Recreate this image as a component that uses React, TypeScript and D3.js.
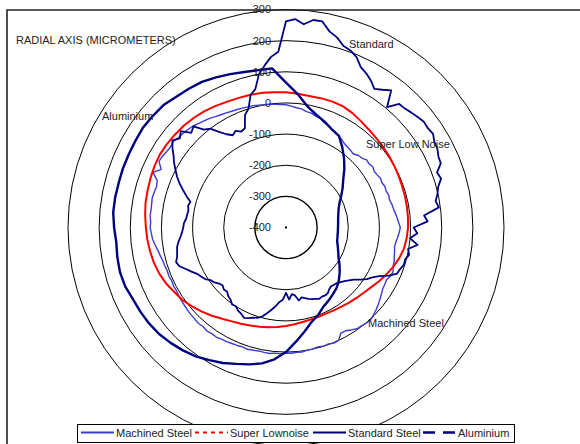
import React, { useEffect, useRef } from "react";
import * as d3 from "d3";

// Radial values in micrometers, clockwise from 12 o'clock.
// Machined Steel and Standard Steel: one value every 2.5 degrees.
const machinedSteel = [
  -6, -10, -14, -16, -22, -24, -30, -33, -42, -45, -52, -55,
  -62, -66, -72, -75, -77, -80, -72, -70, -62, -64, -60, -64,
  -62, -58, -60, -56, -58, -54, -56, -52, -50, -46, -42, -38,
  -33, -36, -40, -44, -46, -43, -40, -36, -34, -28, -30, -36,
  -34, -32, -26, -20, -14, -8, -3, 2, 1, -2, -3, -10,
  -17, -18, 0, 2, -2, 0, -3, -1, 0, 3, 2, 4,
  3, 6, 5, 8, 7, 6, 8, 10, 8, 10, 11, 13,
  14, 17, 16, 18, 15, 17, 15, 14, 13, 11, 10, 8,
  6, 7, 5, 7, 6, 8, 10, 14, 18, 24, 30, 33,
  36, 35, 38, 37, 38, 40, 38, 36, 40, 62, 42, 60,
  58, 54, 52, 55, 50, 48, 45, 42, 36, 32, 28, 22,
  18, 15, 12, 10, 8, 6, 5, 2, 0, -1, -3, -5,
];

const standardSteel = [
  262, 270, 255, 272, 272, 245, 232, 212, 205, 192, 168, 158,
  145, 128, 140, 155, 105, 138, 140, 146, 152, 158, 156, 160,
  150, 148, 140, 138, 116, 122, 106, 98, 88, 95, 45, 55,
  10, 22, 0, 26, -2, 5, -4, -3, -10, -14, -35, -62,
  -80, -92, -108, -125, -136, -145, -152, -158, -160, -162, -158, -150,
  -148, -150, -147, -152, -155, -160, -165, -170, -162, -180, -185, -168,
  -190, -168, -160, -145, -132, -118, -104, -96, -92, -85, -80, -88,
  -92, -100, -98, -108, -112, -120, -118, -124, -120, -110, -105, -92,
  -85, -78, -65, -52, -36, -30, -38, -42, -45, -52, -60, -66,
  -70, -72, -78, -80, -82, -78, -82, -65, -48, -30, -14, 0,
  15, 28, 45, 60, 45, 58, 30, 40, 10, 0, -25, -45,
  -58, -50, -60, -55, -15, 0, 40, 55, 100, 125, 150, 165,
];

// Super Lownoise and Aluminium: one value every 5 degrees.
const superLownoise = [
  34, 31, 29, 30, 31, 30, 25, 18, 12, 8, 5, 3,
  0, -2, -4, -5, -6, -7, -8, -11, -15, -23, -33, -44,
  -55, -66, -74, -80, -85, -90, -93, -95, -95, -94, -92, -88,
  -84, -79, -75, -70, -65, -59, -52, -42, -30, -18, -6, 6,
  14, 25, 33, 39, 43, 47, 50, 54, 58, 60, 63, 66,
  68, 67, 65, 63, 60, 56, 51, 46, 43, 41, 39, 36,
];

const aluminium = [
  65, 30, -5, -25, -38, -52, -60, -85, -110, -135, -160, -178,
  -195, -210, -220, -226, -230, -232, -233, -233, -232, -230, -223, -215,
  -205, -190, -175, -160, -147, -138, -128, -118, -100, -85, -60, -32,
  0, 25, 43, 55, 66, 80, 92, 105, 115, 124, 132, 137,
  140, 143, 150, 152, 150, 147, 152, 157, 157, 156, 157, 157,
  158, 160, 158, 156, 148, 144, 140, 132, 124, 117, 113, 113,
];

const radialTicks = [-400, -300, -200, -100, 0, 100, 200, 300];

const seriesNames = ["Machined Steel", "Super Lownoise", "Standard Steel", "Aluminium"];
const seriesColors = ["#3b3bd0", "#ff0000", "#000080", "#000080"];
const seriesWidths = [1.4, 2, 1.8, 2.4];
const legendDash = [null, "4,4", null, "12,8"];

const curveLabels = [
  { text: "Standard", x: 349, y: 48 },
  { text: "Aluminium", x: 102, y: 120 },
  { text: "Super Low Noise", x: 366, y: 148 },
  { text: "Machined Steel", x: 368, y: 327 },
];

const W = 580;
const H = 444;
const FONT = "'Liberation Sans', Arial, sans-serif";

export default function App() {
  const ref = useRef<SVGSVGElement | null>(null);

  useEffect(() => {
    const svg = d3.select(ref.current);
    svg.selectAll("*").remove();

    const cx = 286;
    const cy = 227.5;
    const r = d3.scaleLinear().domain([-400, 300]).range([0, 218]);

    svg.append("rect").attr("width", W).attr("height", H).attr("fill", "#fff");

    const g = svg.append("g").attr("transform", `translate(${cx},${cy})`);

    // concentric gridlines
    g.selectAll("circle.grid")
      .data(radialTicks.filter((t) => t > -400))
      .enter()
      .append("circle")
      .attr("class", "grid")
      .attr("r", (d) => r(d))
      .attr("fill", "none")
      .attr("stroke", "#000")
      .attr("stroke-width", (d) => (d === -300 ? 1.4 : 1));

    const allSeries = [machinedSteel, superLownoise, standardSteel, aluminium];

    allSeries.forEach((vals, si) => {
      const n = vals.length;
      const line = d3
        .lineRadial<number>()
        .angle((_, i) => (i / n) * 2 * Math.PI)
        .radius((v) => r(v))
        .curve(d3.curveLinearClosed);
      g.append("path")
        .attr("d", line(vals) as string)
        .attr("fill", "none")
        .attr("stroke", seriesColors[si])
        .attr("stroke-width", seriesWidths[si])
        .attr("stroke-linejoin", "round");
    });

    // center point
    g.append("rect").attr("x", -1).attr("y", -1).attr("width", 2).attr("height", 2).attr("fill", "#000");

    // radial axis tick labels
    g.selectAll("text.tick")
      .data(radialTicks)
      .enter()
      .append("text")
      .attr("class", "tick")
      .attr("x", -15)
      .attr("y", (d) => -r(d))
      .attr("dy", "0.35em")
      .attr("text-anchor", "end")
      .attr("font-family", FONT)
      .attr("font-size", 11)
      .attr("fill", "#222")
      .text((d) => String(d));

    // frame
    svg.append("path")
      .attr("d", `M7,${H} V10 H${W}`)
      .attr("fill", "none")
      .attr("stroke", "#222")
      .attr("stroke-width", 1.6);

    svg.append("text")
      .attr("x", 16)
      .attr("y", 44)
      .attr("font-family", FONT)
      .attr("font-size", 11)
      .attr("fill", "#222")
      .text("RADIAL AXIS (MICROMETERS)");

    svg.selectAll("text.curve")
      .data(curveLabels)
      .enter()
      .append("text")
      .attr("class", "curve")
      .attr("x", (d) => d.x)
      .attr("y", (d) => d.y)
      .attr("font-family", FONT)
      .attr("font-size", 11)
      .attr("fill", "#222")
      .text((d) => d.text);

    // legend
    const lg = svg.append("g");
    lg.append("rect")
      .attr("x", 77.5)
      .attr("y", 424.5)
      .attr("width", 437)
      .attr("height", 18)
      .attr("fill", "#fff")
      .attr("stroke", "#000")
      .attr("stroke-width", 1);
    const itemX = [81, 195, 313, 423];
    seriesNames.forEach((name, i) => {
      const x0 = itemX[i];
      lg.append("line")
        .attr("x1", x0)
        .attr("x2", x0 + 33)
        .attr("y1", 432.5)
        .attr("y2", 432.5)
        .attr("stroke", seriesColors[i])
        .attr("stroke-width", i === 3 ? 2.4 : 1.8)
        .attr("stroke-dasharray", legendDash[i] ?? "none");
      lg.append("text")
        .attr("x", x0 + 35)
        .attr("y", 436.5)
        .attr("font-family", FONT)
        .attr("font-size", 11)
        .attr("fill", "#222")
        .text(name);
    });
  }, []);

  return (
    <svg
      ref={ref}
      width={W}
      height={H}
      style={{ position: "absolute", left: 0, top: 0, display: "block" }}
    />
  );
}
